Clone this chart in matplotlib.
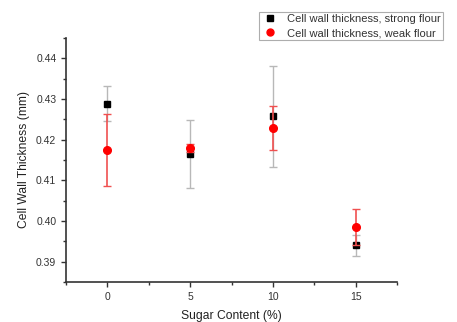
import matplotlib.pyplot as plt
from matplotlib.lines import Line2D
from matplotlib.ticker import MultipleLocator

# data
sugar = [0, 5, 10, 15]
strong = [0.4288, 0.4164, 0.4257, 0.3940]
strong_err = [0.0043, 0.0084, 0.0124, 0.0025]
weak = [0.4175, 0.4180, 0.4229, 0.3986]
weak_err = [0.0089, 0.0010, 0.0054, 0.0044]
labels = ['Cell wall thickness, strong flour', 'Cell wall thickness, weak flour']

plt.rcParams['font.family'] = ['Liberation Sans', 'DejaVu Sans']

fig = plt.figure(figsize=(4.57, 3.22), dpi=100)
ax = fig.add_axes([66/457, 1 - 282/322, (397-66)/457, (282-38)/322])

ax.errorbar(sugar, strong, yerr=strong_err, fmt='s', color='black', ms=5,
            ecolor='#b8b8b8', elinewidth=1, capsize=3, capthick=1, zorder=3)
ax.errorbar(sugar, weak, yerr=weak_err, fmt='o', color='red', ms=5.5,
            ecolor='#f05050', elinewidth=1.2, capsize=3, capthick=1, zorder=4)

ax.set_xlim(-2.5, 17.5)
ax.set_ylim(0.385, 0.445)
ax.xaxis.set_major_locator(MultipleLocator(5))
ax.xaxis.set_minor_locator(MultipleLocator(2.5))
ax.yaxis.set_major_locator(MultipleLocator(0.01))
ax.yaxis.set_minor_locator(MultipleLocator(0.005))
ax.yaxis.set_major_formatter(plt.FormatStrFormatter('%.2f'))

for s in ['top', 'right']:
    ax.spines[s].set_visible(False)
for s in ['left', 'bottom']:
    ax.spines[s].set_color('#333333')
    ax.spines[s].set_linewidth(1.2)

ax.tick_params(which='major', direction='out', length=3.5, width=1,
               color='#333333', labelsize=7.5, labelcolor='#333333')
ax.tick_params(which='minor', direction='out', length=2.5, width=1, color='#333333')

ax.set_xlabel('Sugar Content (%)', fontsize=8.7, color='#222222', labelpad=6)
ax.set_ylabel('Cell Wall Thickness (mm)', fontsize=8.7, color='#222222', labelpad=4)

handles = [Line2D([], [], ls='none', marker='s', color='black', ms=4),
           Line2D([], [], ls='none', marker='o', color='red', ms=5)]
leg = fig.legend(handles, labels, loc='upper right',
                 bbox_to_anchor=(443/457, 1 - 12/322), borderaxespad=0,
                 fontsize=8, frameon=True, fancybox=False, borderpad=0.2,
                 handletextpad=0.8, labelspacing=0.35, handlelength=1.5,
                 labelcolor='#333333')
leg.get_frame().set_edgecolor('#999999')
leg.get_frame().set_linewidth(0.8)

fig.savefig('out.png', dpi=100)
